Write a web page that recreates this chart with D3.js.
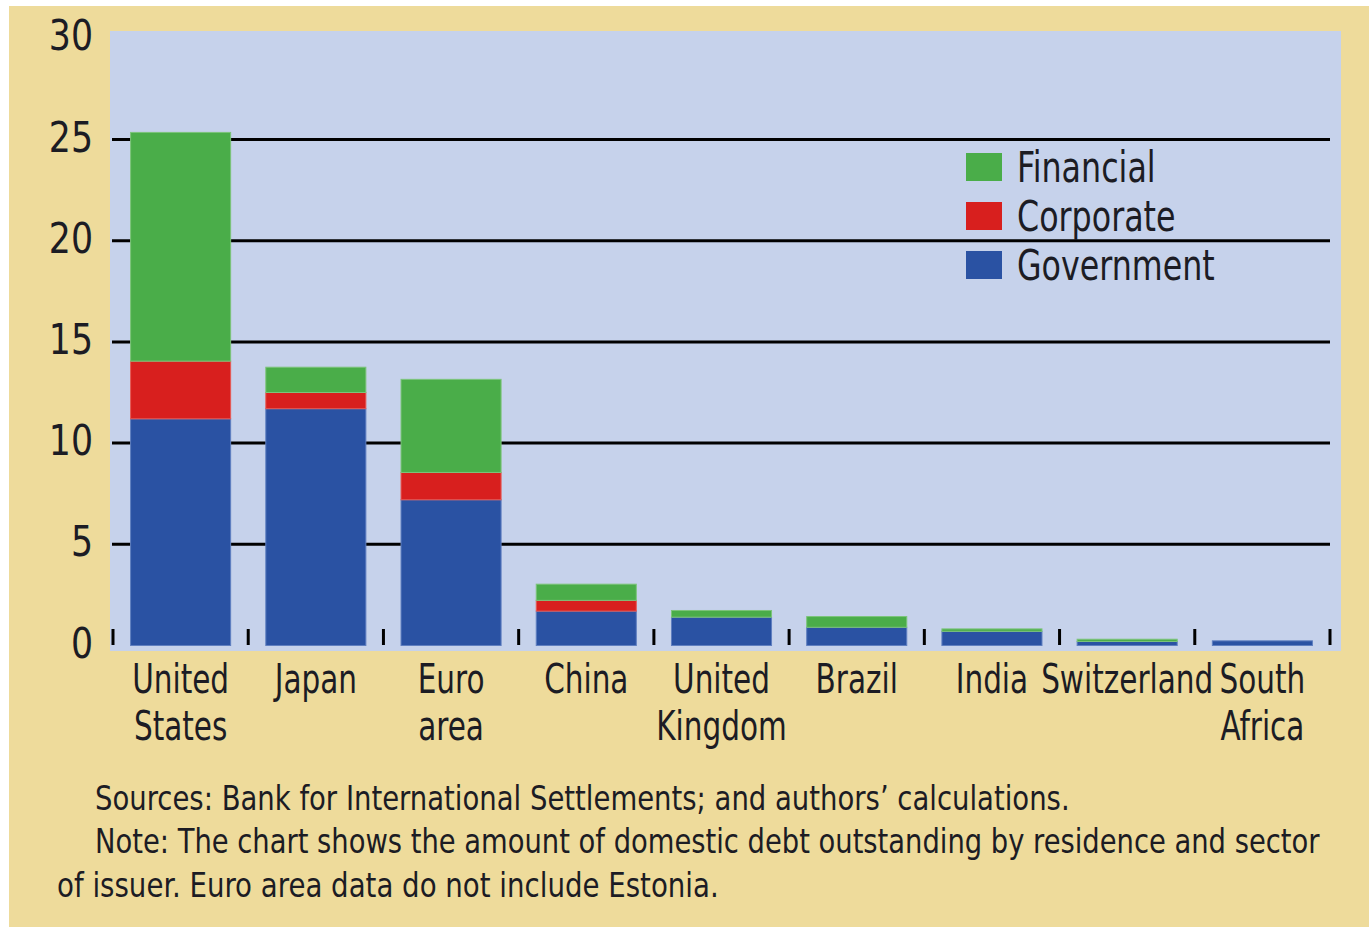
<!DOCTYPE html>
<html>
<head>
<meta charset="utf-8">
<script src="https://cdn.jsdelivr.net/npm/d3@7"></script>
<style>
  body { margin: 0; background: #fff; }
  text { font-family: "Liberation Sans Narrow", "DejaVu Sans Condensed", sans-serif; fill: #1c1c24; }
</style>
</head>
<body>
<div class="debtViz"></div>
<script>
var categories = ["United States", "Japan", "Euro area", "China", "United Kingdom", "Brazil", "India", "Switzerland", "South Africa"];
var labelLines = [["United", "States"], ["Japan"], ["Euro", "area"], ["China"], ["United", "Kingdom"], ["Brazil"], ["India"], ["Switzerland"], ["South", "Africa"]];
var government = [11.2, 11.7, 7.2, 1.7, 1.4, 0.9, 0.7, 0.2, 0.23];
var corporate  = [2.85, 0.8, 1.35, 0.53, 0.0, 0.0, 0.0, 0.0, 0.0];
var financial  = [11.3, 1.25, 4.6, 0.8, 0.33, 0.53, 0.12, 0.11, 0.0];
var yTicks = [0, 5, 10, 15, 20, 25, 30];
var seriesNames = ["Financial", "Corporate", "Government"];
var notes = [
  "Sources: Bank for International Settlements; and authors\u2019 calculations.",
  "Note: The chart shows the amount of domestic debt outstanding by residence and sector",
  "of issuer. Euro area data do not include Estonia."
];

var width = 1369,
    height = 927,
    squeeze = 0.84; // the original face is narrower than anything installed

var colors = { Government: "#2a52a3", Corporate: "#d81f1e", Financial: "#4aad49" };
var strokes = { Government: "#5f7fc0", Corporate: "#e65a55", Financial: "#7cc47a" };

var svg = d3.select(".debtViz").append("svg")
    .attr("width", width)
    .attr("height", height);

// beige frame
svg.append("rect")
    .attr("x", 9).attr("y", 6)
    .attr("width", width - 9).attr("height", height - 6)
    .style("fill", "#eedb9b");

// plot panel
svg.append("rect")
    .attr("x", 110).attr("y", 31)
    .attr("width", 1231).attr("height", 620)
    .style("fill", "#c6d2eb");

var x = d3.scaleBand()
    .domain(categories)
    .range([113, 1330])
    .paddingInner(0.26)
    .paddingOuter(0.13);

var y = d3.scaleLinear()
    .domain([0, 30])
    .range([645.5, 38.3]);

// gridlines
svg.selectAll(".grid")
    .data(yTicks.filter(function(d){ return d > 0 && d < 30; }))
    .enter()
    .append("line")
      .attr("x1", 112).attr("x2", 1330)
      .attr("y1", function(d){ return y(d); })
      .attr("y2", function(d){ return y(d); })
      .style("stroke", "#000")
      .style("stroke-width", 3);

// y labels
svg.selectAll(".ylab")
    .data(yTicks)
    .enter()
    .append("text")
      .attr("transform", function(d){ return "translate(93," + (y(d) + 12) + ") scale(0.92,1)"; })
      .style("text-anchor", "end")
      .style("font-size", "42px")
      .text(function(d){ return d; });

// stack the series
var rows = categories.map(function(c, i){
  return { cat: c, Government: government[i], Corporate: corporate[i], Financial: financial[i] };
});
var stack = d3.stack().keys(["Government", "Corporate", "Financial"]);
var layers = stack(rows);

svg.selectAll(".layer")
    .data(layers)
    .enter()
    .append("g")
      .style("fill", function(d){ return colors[d.key]; })
      .style("stroke", function(d){ return strokes[d.key]; })
      .style("stroke-width", 1)
    .selectAll("rect")
    .data(function(d){ return d.filter(function(s){ return s[1] - s[0] > 0; }); })
    .enter()
    .append("rect")
      .attr("x", function(d){ return x(d.data.cat); })
      .attr("width", x.bandwidth())
      .attr("y", function(d){ return y(d[1]); })
      .attr("height", function(d){ return y(d[0]) - y(d[1]); });

// category separator ticks
var step = x.step();
var bounds = d3.range(categories.length + 1).map(function(i){
  return x(categories[0]) - x.paddingInner() * step / 2 + i * step;
});
svg.selectAll(".sep")
    .data(bounds)
    .enter()
    .append("line")
      .attr("x1", function(d){ return d; })
      .attr("x2", function(d){ return d; })
      .attr("y1", 629).attr("y2", 645)
      .style("stroke", "#000")
      .style("stroke-width", 3);

// category labels
var catLabels = svg.selectAll(".cat")
    .data(categories)
    .enter()
    .append("text")
      .attr("transform", function(d){ return "translate(" + (x(d) + x.bandwidth() / 2) + ",693) scale(0.8,1)"; })
      .style("text-anchor", "middle")
      .style("font-size", "41px");

catLabels.selectAll("tspan")
    .data(function(d, i){ return labelLines[i]; })
    .enter()
    .append("tspan")
      .attr("x", 0)
      .attr("dy", function(d, i){ return i === 0 ? 0 : 47; })
      .text(function(d){ return d; });

// legend
var legend = svg.selectAll(".legend")
    .data(seriesNames)
    .enter()
    .append("g")
      .attr("transform", function(d, i){ return "translate(966," + (153 + i * 49) + ")"; });

legend.append("rect")
    .attr("width", 36)
    .attr("height", 28)
    .style("fill", function(d){ return colors[d]; });

legend.append("text")
    .attr("transform", "translate(51,29) scale(" + squeeze + ",1)")
    .style("font-size", "42px")
    .text(function(d){ return d; });

// footnotes, squeezed to the widths they take in print
var noteX = [95, 95, 57],
    noteY = [810, 853, 897],
    noteW = [975, 1225, 662];
svg.selectAll(".note")
    .data(notes)
    .enter()
    .append("text")
      .style("font-size", "34px")
      .text(function(d){ return d; })
      .attr("transform", function(d, i){
        var k = noteW[i] / this.getComputedTextLength();
        return "translate(" + noteX[i] + "," + noteY[i] + ") scale(" + k + ",1)";
      });
</script>
</body>
</html>
